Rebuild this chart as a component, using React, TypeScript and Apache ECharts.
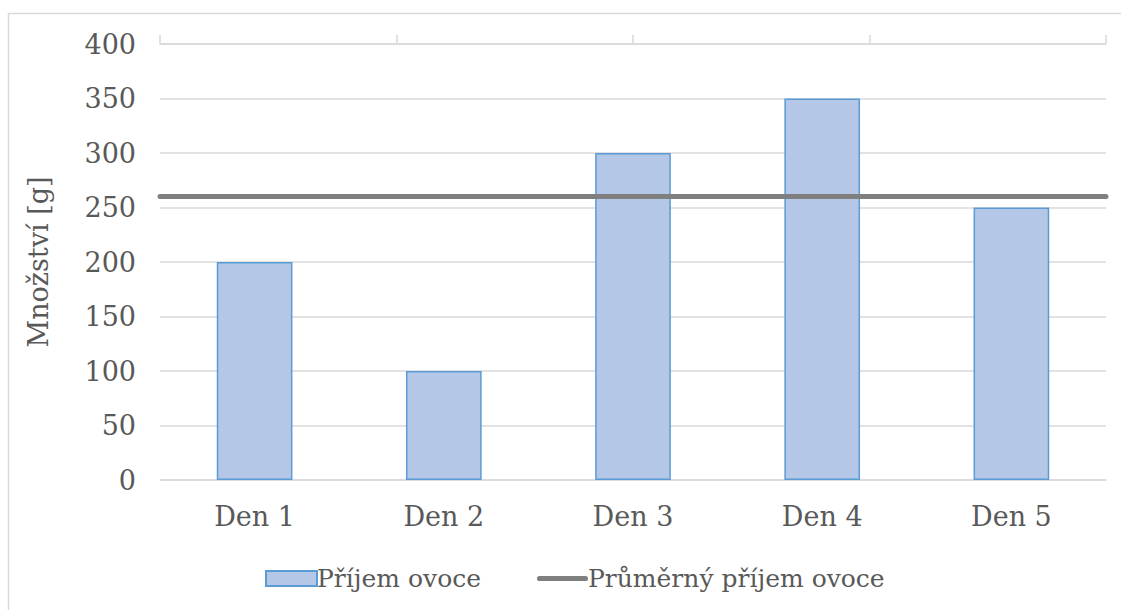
import React, { useEffect, useRef } from "react";
import * as echarts from "echarts";

const categories = ["Den 1", "Den 2", "Den 3", "Den 4", "Den 5"];
const intake = [200, 100, 300, 350, 250];
const average = [260, 260, 260, 260, 260];
const barName = "Příjem ovoce";
const lineName = "Průměrný příjem ovoce";
const yAxisName = "Množství [g]";

const FONT = "DejaVu Serif";

export default function App() {
  const ref = useRef<HTMLDivElement>(null);
  useEffect(() => {
    document.body.style.margin = "0";
    const chart = echarts.init(ref.current!, null, { renderer: "svg" });
    chart.setOption({
      animation: false,
      backgroundColor: "#ffffff",
      textStyle: { fontFamily: FONT },
      graphic: [
        {
          type: "rect",
          shape: { x: 8.5, y: 13.5, width: 1300, height: 800 },
          style: { fill: "none", stroke: "#d9d9d9", lineWidth: 1.5 },
          silent: true,
          z: -10,
        },
      ],
      grid: { left: 160, right: 15, top: 44, bottom: 130, containLabel: false },
      legend: {
        left: 260,
        top: 561,
        itemWidth: 51,
        itemHeight: 15,
        itemGap: 56,
        textStyle: { fontFamily: FONT, fontSize: 25, color: "#595959", padding: [0, 0, 0, -5] },
        data: [
          { name: barName, icon: "rect" },
          { name: lineName, icon: "path://M2.5,0 L47.5,0 A2.5,2.5 0 0 1 47.5,5 L2.5,5 A2.5,2.5 0 0 1 2.5,0 Z" },
        ],
      },
      xAxis: [
        {
          type: "category",
          data: categories,
          position: "bottom",
          axisLine: { show: true, lineStyle: { color: "#d9d9d9", width: 1.5 } },
          axisTick: { show: false },
          axisLabel: { color: "#595959", fontSize: 27, fontFamily: FONT, margin: 23 },
        },
        {
          type: "category",
          data: categories,
          position: "top",
          boundaryGap: false,
          axisLine: { show: true, lineStyle: { color: "#d9d9d9", width: 1.5 } },
          axisTick: { show: true, length: 9, lineStyle: { color: "#d9d9d9", width: 1.5 } },
          axisLabel: { show: false },
        },
      ],
      yAxis: {
        type: "value",
        min: 0,
        max: 400,
        interval: 50,
        name: yAxisName,
        nameLocation: "middle",
        nameGap: 108,
        nameRotate: 90,
        nameTextStyle: { color: "#595959", fontSize: 27, fontFamily: FONT },
        axisLine: { show: false },
        axisTick: { show: false },
        axisLabel: { color: "#595959", fontSize: 27, fontFamily: FONT, margin: 24 },
        splitLine: { lineStyle: { color: "#d9d9d9", width: 1.5 } },
      },
      series: [
        {
          name: barName,
          type: "bar",
          data: intake,
          barWidth: "40%",
          itemStyle: { color: "#b4c7e7", borderColor: "#5b9bd5", borderWidth: 1.5 },
          z: 2,
        },
        {
          name: lineName,
          type: "line",
          xAxisIndex: 1,
          data: average,
          symbol: "none",
          lineStyle: { color: "#7f7f7f", width: 5, cap: "round" },
          itemStyle: { color: "#7f7f7f" },
          z: 3,
        },
      ],
    });
    return () => chart.dispose();
  }, []);
  return <div ref={ref} style={{ width: 1121, height: 610 }} />;
}
